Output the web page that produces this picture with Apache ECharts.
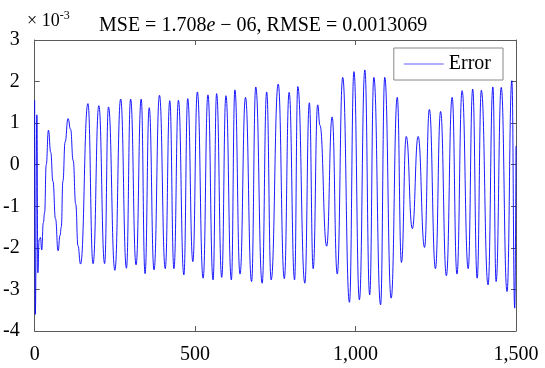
<!DOCTYPE html>
<html><head><meta charset="utf-8">
<script src="https://cdn.jsdelivr.net/npm/echarts@6/dist/echarts.min.js"></script>
<style>html,body{margin:0;padding:0;background:#fff}#c{width:545px;height:368px}</style>
</head><body><div id="c"></div>
<script>
// Key points of the error signal (sample index, value in units of 1e-3)
const sampleIdx = [0,2,7,10,14,18,22,27,31,36,43,50,57,65,73,79,83,88,95,104,112,120,128,135,143,
 166,182,200,218,230,250,268,286,299,316,332,344,357,372,389,407,421,434,448,465,477,493,
 507,525,540,556,567,583,596,613,624,640,657,676,689,709,723,737,759,778,793,810,820,842,
 856,868,882,889,910,927,943,960,981,995,1012,1029,1044,1057,1078,1091,1111,1130,1143,1158,
 1177,1195,1215,1230,1249,1265,1283,1301,1316,1332,1351,1365,1379,1392,1413,1428,1438,1454,
 1472,1487,1496,1500];
const errorVals = [1.55,-3.6,1.2,-2.6,-1.8,-1.75,-2.05,-1.4,-1.15,0.0,0.83,0.3,-0.4,-1.3,-2.07,-1.7,-1.5,-0.4,0.55,1.11,0.85,0.1,-0.95,-1.95,-2.39,
 1.47,-2.38,1.42,-2.38,1.39,-2.54,1.58,-2.49,1.58,-2.41,1.58,-2.62,1.37,-2.53,1.67,-2.50,1.54,-2.50,1.55,-2.65,1.59,-2.33,
 1.75,-2.73,1.68,-2.77,1.71,-2.71,1.66,-2.77,1.80,-2.63,1.62,-2.81,1.87,-2.85,1.75,-2.77,1.94,-2.74,1.74,-2.77,1.88,-2.85,
 1.49,-2.50,1.44,0.95,-1.96,1.15,-2.63,2.10,-3.31,2.24,-3.25,2.28,-3.13,2.10,-3.37,2.10,-3.21,1.62,-2.35,0.68,
 -1.54,0.68,-1.99,1.33,-2.50,1.28,-2.67,1.62,-2.63,1.78,-2.50,1.82,-2.73,1.79,-2.89,1.87,-2.81,1.86,
 -3.05,2.02,-3.45,0.45];
const xTickVals = [0, 500, 1000, 1500];
const yTickVals = [-4, -3, -2, -1, 0, 1, 2, 3];
const seriesName = 'Error';
const exponentBase = '× 10';
const exponentPow = '-3';

const FONT = 'Liberation Serif';
const AX = '#5a5a5a';
const data = sampleIdx.map((x, i) => [x, errorVals[i]]);

const chart = echarts.init(document.getElementById('c'), null, {renderer: 'canvas'});
function axisBase(pos, showLabel, isX) {
  return {
    type: 'value', position: pos,
    min: isX ? xTickVals[0] : yTickVals[0],
    max: isX ? xTickVals[xTickVals.length-1] : yTickVals[yTickVals.length-1],
    interval: isX ? 500 : 1,
    axisLine: {show: true, onZero: false, lineStyle: {color: AX, width: 1}},
    axisTick: {show: true, inside: true, length: 5, lineStyle: {color: AX, width: 1}},
    splitLine: {show: false},
    axisLabel: {show: showLabel, fontFamily: FONT, fontSize: 20, color: '#000', margin: isX ? 14 : 15,
      formatter: v => isX ? v.toLocaleString('en-US') : String(v)}
  };
}
chart.setOption({
  animation: false,
  backgroundColor: '#fff',
  grid: {left: 34, right: 29, top: 40, bottom: 37, containLabel: false},
  title: {
    text: '{n|MSE = 1.708}{i|e}{n| − 06, RMSE = 0.0013069}',
    left: 94, top: 11,
    textStyle: {fontWeight: 'normal', rich: {
      n: {fontFamily: FONT, fontSize: 20, fontWeight: 'normal', color: '#000'},
      i: {fontFamily: FONT, fontSize: 20, fontWeight: 'normal', fontStyle: 'italic', color: '#000'}
    }}
  },
  graphic: [
    {type: 'text', x: 27, y: 10, style: {
      text: '{b|' + exponentBase + '}{s|' + exponentPow + '}',
      rich: {
        b: {fontFamily: FONT, fontSize: 18, lineHeight: 20, fill: '#000', verticalAlign: 'bottom'},
        s: {fontFamily: FONT, fontSize: 12, lineHeight: 12, fill: '#000', verticalAlign: 'top'}
      }
    }}
  ],
  legend: {
    data: [{name: seriesName, icon: 'rect'}], right: 42, top: 48,
    backgroundColor: '#fff', borderColor: '#888', borderWidth: 1, borderRadius: 0,
    padding: [6, 12, 6, 10], itemWidth: 40, itemHeight: 1,
    itemStyle: {color: '#6060ff'},
    textStyle: {fontFamily: FONT, fontSize: 20, color: '#000'}
  },
  xAxis: [axisBase('bottom', true, true), axisBase('top', false, true)],
  yAxis: [axisBase('left', true, false), axisBase('right', false, false)],
  series: [{
    name: seriesName, type: 'line', data: data,
    symbol: 'none', showSymbol: false,
    smooth: 0.5, smoothMonotone: 'x',
    lineStyle: {color: '#0000ff', width: 0.9},
    itemStyle: {color: '#0000ff'}
  }]
});
</script>
</body></html>
